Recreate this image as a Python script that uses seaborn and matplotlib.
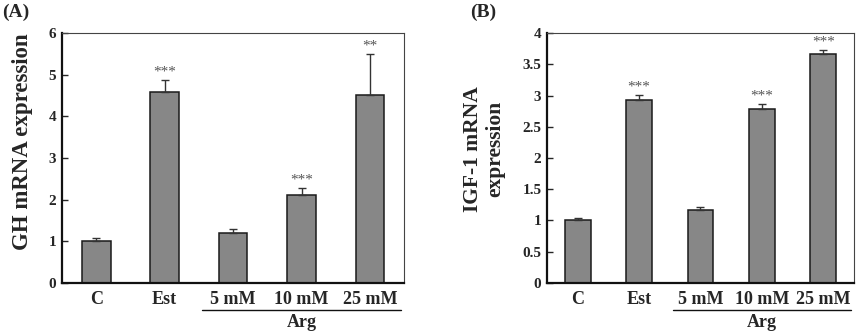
import numpy as np
import pandas as pd
import matplotlib
matplotlib.use("Agg")
import matplotlib.pyplot as plt
import seaborn as sns

categories = ["C", "Est", "5 mM", "10 mM", "25 mM"]
gh_values = [1.0, 4.58, 1.21, 2.10, 4.52]
gh_errors = [0.09, 0.30, 0.08, 0.19, 0.98]
gh_stars = ["", "***", "", "***", "**"]
igf_values = [1.0, 2.93, 1.17, 2.78, 3.66]
igf_errors = [0.04, 0.08, 0.04, 0.09, 0.07]
igf_stars = ["", "***", "", "***", "***"]
gh_ticks = [0, 1, 2, 3, 4, 5, 6]
igf_ticks = [0, 0.5, 1, 1.5, 2, 2.5, 3, 3.5, 4]
igf_ticklabels = ["0", "0.5", "1", "1.5", "2", "2.5", "3", "3.5", "4"]
group_label = "Arg"

sns.set_theme(style="white")
plt.rcParams['font.family'] = ['Liberation Serif', 'DejaVu Serif']
plt.rcParams['font.weight'] = 'bold'

fig = plt.figure(figsize=(8.6, 3.34), dpi=100)
axA = fig.add_axes([0.072, 0.153, 0.398, 0.748])
axB = fig.add_axes([0.636, 0.153, 0.357, 0.748])

def panel(ax, vals, errs, stars, ticks, ticklabels, ylabel, ylsize, ylabel_y,
          letter, letter_x, ylabel_pad):
    df = pd.DataFrame({"cat": categories, "val": vals})
    sns.barplot(data=df, x="cat", y="val", ax=ax, color="#878787", saturation=1,
                width=0.42, edgecolor="#1a1a1a", linewidth=1.1, errorbar=None)
    x = np.arange(len(categories))
    ax.errorbar(x, vals, yerr=[np.zeros(len(vals)), errs], fmt="none",
                ecolor="#333333", elinewidth=1.0, capsize=3, capthick=1.0)
    span = ticks[-1] - ticks[0]
    for xi, v, e, s in zip(x, vals, errs, stars):
        if s:
            ax.text(xi, v + e + span * 0.005, s, ha="center", va="bottom",
                    fontsize=11, color="#555555", fontweight="normal")
    ax.set_ylim(ticks[0], ticks[-1])
    ax.set_xlim(-0.5, len(categories) - 0.5)
    ax.set_yticks(ticks)
    ax.set_yticklabels(ticklabels, fontsize=11, fontweight="bold")
    ax.set_xticks(x)
    ax.set_xticklabels(categories, fontsize=13, fontweight="bold")
    ax.set_xticks(np.arange(len(categories) - 1) + 0.5, minor=True)
    ax.tick_params(axis="x", which="major", length=0, pad=6)
    ax.tick_params(axis="x", which="minor", direction="in", length=3, width=0.8, color="#555555")
    ax.tick_params(axis="y", direction="in", length=4, width=1.0, left=True, pad=4)
    ax.set_xlabel("")
    ax.set_ylabel(ylabel, fontsize=ylsize, fontweight="bold", labelpad=ylabel_pad, linespacing=1.15)
    ax.yaxis.label.set_y(ylabel_y)
    for side in ["left", "bottom"]:
        ax.spines[side].set_linewidth(1.6)
        ax.spines[side].set_color("#111111")
    for side in ["right", "top"]:
        ax.spines[side].set_linewidth(0.8)
        ax.spines[side].set_color("#444444")
    trans = ax.get_xaxis_transform()
    ax.plot([1.55, 4.45], [-0.11, -0.11], transform=trans, color="#111111",
            linewidth=1.0, clip_on=False)
    ax.text(3.0, -0.125, group_label, transform=trans, ha="center", va="top",
            fontsize=13, fontweight="bold")
    fig.text(letter_x, 0.99, letter, ha="left", va="top", fontsize=14, fontweight="bold")

panel(axA, gh_values, gh_errors, gh_stars, gh_ticks, [str(t) for t in gh_ticks],
      "GH mRNA expression", 16.5, 0.565, "(A)", 0.002, 11)
panel(axB, igf_values, igf_errors, igf_stars, igf_ticks, igf_ticklabels,
      "IGF-1 mRNA\nexpression", 15.5, 0.535, "(B)", 0.547, 12)

fig.savefig("out.png", dpi=100)
